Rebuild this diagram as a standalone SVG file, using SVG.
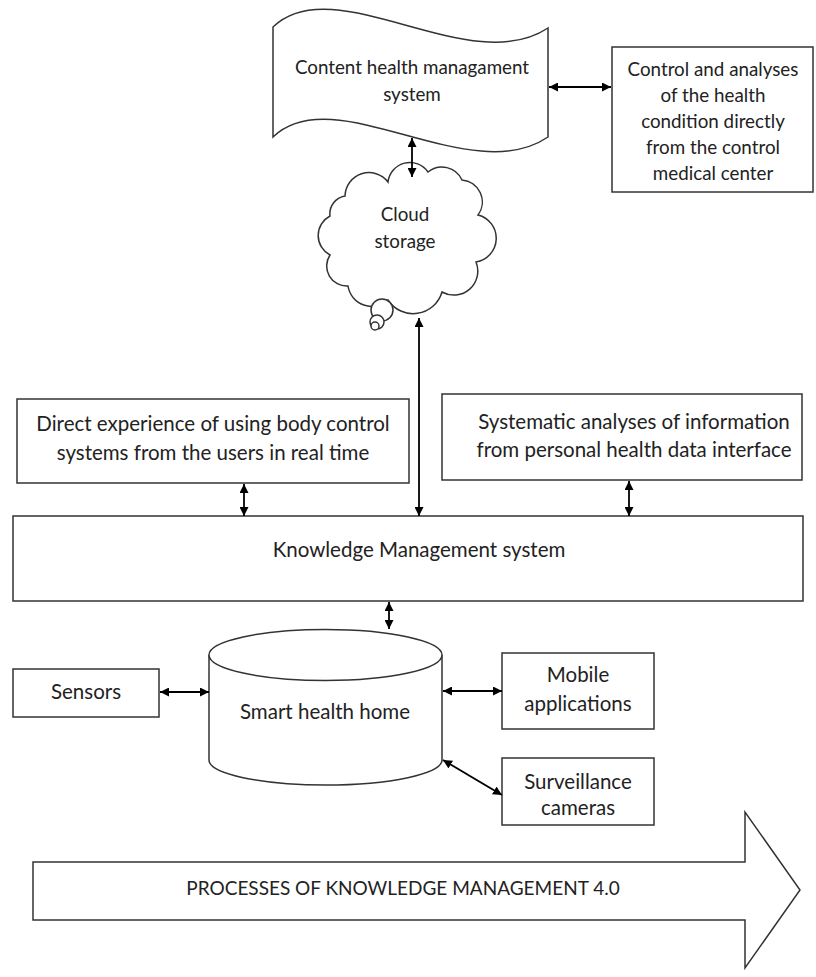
<svg xmlns="http://www.w3.org/2000/svg" width="816" height="977" viewBox="0 0 816 977">
<defs>
<marker id="ah" viewBox="0 0 10 10" refX="10" refY="5" markerWidth="9" markerHeight="9" markerUnits="userSpaceOnUse" orient="auto-start-reverse">
<path d="M0,0 L10,5 L0,10 z" fill="#000"/>
</marker>
<style>
.shape{fill:#fff;stroke:#333;stroke-width:1.5}
.t{font-family:Lato,"Open Sans","Liberation Sans",sans-serif;font-size:20.5px;fill:#222;text-anchor:middle}
.s{font-size:18.8px}
.c{stroke:#000;stroke-width:1.8;fill:none;marker-start:url(#ah);marker-end:url(#ah)}
</style>
</defs>
<rect width="816" height="977" fill="#fff"/>

<g id="content-health">
<path class="shape" d="M273,27 C335,-32 470,80 548,28 L548,137 C470,190 335,78 273,137 Z"/>
<text class="t s" x="412" y="74">Content health managament</text>
<text class="t s" x="412" y="101">system</text>
</g>

<g id="control-analyses">
<rect class="shape" x="612" y="47" width="201" height="145"/>
<text class="t s" x="713" y="76">Control and analyses</text>
<text class="t s" x="713" y="102">of the health</text>
<text class="t s" x="713" y="128">condition directly</text>
<text class="t s" x="713" y="154">from the control</text>
<text class="t s" x="713" y="180">medical center</text>
</g>

<g id="cloud-storage">
<path class="shape" d="M345,196 A24,24 0 0 1 388,182 A22,22 0 0 1 428,172 A22,22 0 0 1 462,180 A22,22 0 0 1 478,215 A24,24 0 0 1 476,262 A24,24 0 0 1 442,292 A30,30 0 0 1 388,300 A24,24 0 0 1 348,286 A20,20 0 0 1 330,255 A22,22 0 0 1 330,216 A18,18 0 0 1 345,196 Z"/>
<circle class="shape" cx="382" cy="310" r="11"/>
<circle class="shape" cx="377" cy="322" r="7"/>
<circle class="shape" cx="375" cy="326" r="4"/>
<text class="t s" x="405" y="221">Cloud</text>
<text class="t s" x="405" y="248">storage</text>
</g>

<g id="direct-experience">
<rect class="shape" x="17" y="399" width="392" height="84"/>
<text class="t" x="213" y="431">Direct experience of using body control</text>
<text class="t" x="213" y="460">systems from the users in real time</text>
</g>

<g id="systematic-analyses">
<rect class="shape" x="442" y="394" width="360" height="86"/>
<text class="t" x="634" y="429">Systematic analyses of information</text>
<text class="t" x="634" y="457">from personal health data interface</text>
</g>

<g id="knowledge-management">
<rect class="shape" x="13" y="516" width="790" height="85"/>
<text class="t" x="419" y="557">Knowledge Management system</text>
</g>

<g id="smart-health-home">
<path class="shape" d="M209,655 L209,760 A116.5,25 0 0 0 442,760 L442,655"/>
<ellipse class="shape" cx="325.5" cy="655" rx="116.5" ry="25.5"/>
<text class="t" x="325" y="719">Smart health home</text>
</g>

<g id="sensors">
<rect class="shape" x="13" y="669" width="146" height="48"/>
<text class="t" x="86" y="699">Sensors</text>
</g>

<g id="mobile-applications">
<rect class="shape" x="502" y="653" width="152" height="76"/>
<text class="t" x="578" y="682">Mobile</text>
<text class="t" x="578" y="711">applications</text>
</g>

<g id="surveillance-cameras">
<rect class="shape" x="502" y="758" width="152" height="67"/>
<text class="t" x="578" y="789">Surveillance</text>
<text class="t" x="578" y="815">cameras</text>
</g>

<g id="processes-arrow">
<path class="shape" d="M33,862 L745,862 L745,812 L800,890 L745,968 L745,920 L33,920 Z"/>
<text class="t" x="403" y="895" style="font-size:19px">PROCESSES OF KNOWLEDGE MANAGEMENT 4.0</text>
</g>

<g id="connectors">
<line class="c" x1="549" y1="87" x2="611" y2="87"/>
<line class="c" x1="412" y1="138" x2="412" y2="177"/>
<line class="c" x1="419" y1="318" x2="419" y2="516"/>
<line class="c" x1="244" y1="484" x2="244" y2="516"/>
<line class="c" x1="629" y1="481" x2="629" y2="516"/>
<line class="c" x1="389" y1="602" x2="389" y2="629"/>
<line class="c" x1="160" y1="692" x2="209" y2="692"/>
<line class="c" x1="443" y1="691" x2="502" y2="691"/>
<line class="c" x1="443" y1="760" x2="502" y2="795"/>
</g>
</svg>
